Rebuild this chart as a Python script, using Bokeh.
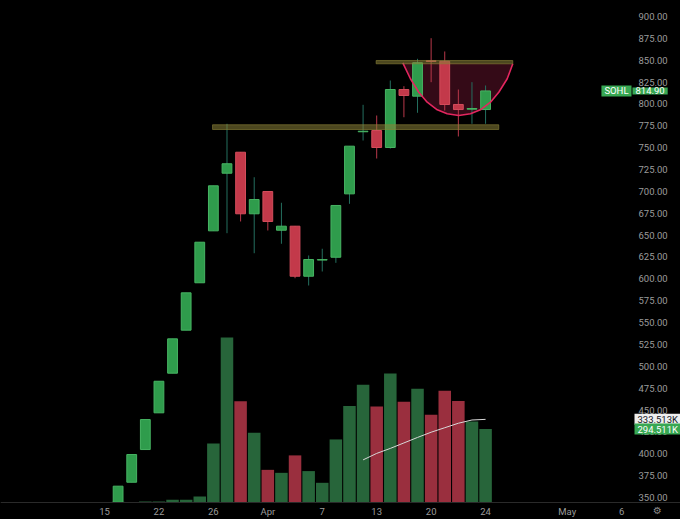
from bokeh.plotting import figure
from bokeh.models import (ColumnDataSource, Range1d, FixedTicker, Label,
                          PrintfTickFormatter, GlobalInlineStyleSheet)
from bokeh.embed import file_html
from bokeh.resources import INLINE

# ---------------- data ----------------
bar_index = list(range(1, 29))
opens  = [344.5, 367.4, 404.8, 446.8, 492.1, 541.3, 595.5, 654.9, 720.8, 744.8,
          674.4, 699.9, 655.6, 660.2, 603.0, 621.5, 624.7, 697.2, 768.2, 769.6,
          750.2, 816.5, 808.9, 849.4, 848.9, 799.4, 794.0, 793.6]
highs  = [362.9, 399.1, 439.1, 482.9, 531.4, 584.0, 641.9, 706.4, 777.3, 745.0,
          716.2, 700.0, 687.0, 660.5, 626.7, 634.4, 683.9, 751.7, 799.0, 786.8,
          826.8, 820.3, 851.6, 875.2, 860.0, 816.5, 824.9, 821.1]
lows   = [344.5, 367.4, 404.8, 446.8, 492.1, 541.3, 595.5, 654.9, 652.2, 665.6,
          629.3, 655.3, 640.1, 600.7, 592.4, 608.4, 618.3, 685.8, 758.2, 737.6,
          749.0, 784.8, 789.9, 824.9, 792.5, 762.8, 777.3, 777.3]
closes = [362.9, 399.1, 439.1, 482.9, 531.4, 584.0, 641.9, 706.4, 731.6, 674.4,
          690.7, 665.6, 660.2, 603.0, 622.1, 622.0, 683.9, 751.7, 768.8, 750.2,
          816.5, 809.7, 847.1, 848.6, 799.4, 793.6, 794.8, 814.9]
volumes = [3000, 2000, 4000, 4000, 11000, 11000, 24000, 237000, 662000, 406000,
           280000, 131000, 119000, 189000, 126000, 79000, 253000, 387000, 472000, 385000,
           518000, 404000, 456000, 352000, 448000, 407000, 325000, 294511]
ma_index = list(range(19, 29))
ma_values = [171000, 197000, 217000, 239000, 261000, 282000, 300000, 318000, 331000, 333513]

tick_index = [0, 4, 8, 12, 16, 20, 24, 28, 34, 38]
tick_labels = ["15", "22", "26", "Apr", "7", "13", "20", "24", "May", "6"]
price_ticks = list(range(350, 901, 25))

# drawings: two horizontal zones and a cup
band_left = [19.96, 7.94]
band_right = [30.0, 28.97]
band_low = [845.9, 770.8]
band_high = [849.7, 776.2]
cup_x = [21.92, 22.48, 23.09, 23.71, 24.45, 25.18, 26.03, 26.89, 27.62, 28.36, 28.97, 29.59, 30.0]
cup_p = [847.0, 828.8, 813.4, 802.0, 793.3, 788.7, 786.8, 788.7, 793.3, 802.0, 813.4, 828.8, 845.9]

last_label = "SOHL"
last_price = closes[-1]

# ---------------- styles ----------------
GREEN_BODY, GREEN_EDGE, GREEN_WICK = "#2f9c4c", "#47b463", "#246f5f"
RED_BODY, RED_EDGE, RED_WICK = "#c3394a", "#d44d5c", "#b8384a"
VOL_GREEN, VOL_RED = "#27653a", "#9a2f3e"
LABEL_GREEN = "#38a853"
AXIS_TXT = "#9b9b9b"
FONT = "Roboto"

up = [c >= o for o, c in zip(opens, closes)]
src = ColumnDataSource(dict(
    x=bar_index, o=opens, h=highs, l=lows, c=closes, v=volumes,
    top=[max(o, c) for o, c in zip(opens, closes)],
    bot=[min(o, c) for o, c in zip(opens, closes)],
    body=[GREEN_BODY if u else RED_BODY for u in up],
    edge=[GREEN_EDGE if u else RED_EDGE for u in up],
    wick=[GREEN_WICK if u else RED_WICK for u in up],
    vcol=[VOL_GREEN if u else VOL_RED for u in up],
))

# scale set-up: the frame covers the whole figure; axes sit at fixed locations
x_start, x_end = -7.641, 42.322
price_axis_x = 38.795        # where the price scale begins (bar-index units)
time_axis_y = 344.2          # where the time scale begins (price units)
p = figure(width=680, height=519, output_backend="svg", toolbar_location=None,
           x_range=Range1d(x_start, x_end), y_range=Range1d(324.8, 918.3),
           y_axis_location="right", min_border_left=0, min_border_top=0,
           min_border_right=0, min_border_bottom=0)
p.extra_y_ranges = {"vol": Range1d(-68204, 2014024)}
p.background_fill_color = "#000000"
p.border_fill_color = "#000000"
p.outline_line_color = None
p.grid.visible = False
p.stylesheets = [GlobalInlineStyleSheet(css="html, body { background-color: #000000; }")]

# volume
p.vbar(x="x", width=0.92, top="v", bottom=0, source=src, fill_color="vcol",
       line_color=None, y_range_name="vol")
p.line(ma_index, ma_values, line_color="#d8d8d8", line_width=1, y_range_name="vol")

# cup fill
p.patch(cup_x, cup_p, fill_color="#3a0b1a", fill_alpha=0.9, line_color=None)

# candles
p.segment(x0="x", x1="x", y0="l", y1="h", source=src, line_color="wick", line_width=1)
p.vbar(x="x", width=0.72, top="top", bottom="bot", source=src,
       fill_color="body", line_color="edge", line_width=1)

# cup outline
p.line(cup_x, cup_p, line_color="#e3265f", line_width=1.6)

# zones
p.quad(left=band_left, right=band_right, bottom=band_low, top=band_high,
       fill_color="#8a8238", fill_alpha=0.55, line_color="#8a8238", line_alpha=0.6)

# axes
ya = p.yaxis[0]
ya.fixed_location = price_axis_x
ya.ticker = FixedTicker(ticks=price_ticks)
ya.formatter = PrintfTickFormatter(format="%.2f")
ya.axis_line_color = None
ya.major_tick_line_color = None
ya.minor_tick_line_color = None
ya.major_tick_out = 0
ya.major_tick_in = 0
ya.minor_tick_out = 0
ya.minor_tick_in = 0
ya.major_label_standoff = 6
ya.major_label_text_color = AXIS_TXT
ya.major_label_text_font = FONT
ya.major_label_text_font_size = "9.5px"

xa = p.xaxis[0]
xa.fixed_location = time_axis_y
xa.ticker = FixedTicker(ticks=tick_index)
xa.major_label_overrides = {t: s for t, s in zip(tick_index, tick_labels)}
xa.axis_line_color = "#2a2a2a"
xa.major_tick_line_color = None
xa.minor_tick_line_color = None
xa.major_tick_out = 0
xa.major_tick_in = 0
xa.minor_tick_out = 0
xa.minor_tick_in = 0
xa.major_label_standoff = 3
xa.major_label_text_color = AXIS_TXT
xa.major_label_text_font = FONT
xa.major_label_text_font_size = "9.5px"

# price / volume tags
common = dict(text_baseline="middle", text_font=FONT, text_font_size="9.5px",
              padding=(3, 0))
p.add_layout(Label(x=price_axis_x, y=last_price, x_offset=-1, text=last_label, text_align="right",
                   text_color="#ffffff", background_fill_color=LABEL_GREEN, **common))
p.add_layout(Label(x=price_axis_x, y=last_price, x_offset=0, text=f"{last_price:.2f}", text_align="left",
                   text_color="#ffffff", background_fill_color=LABEL_GREEN, **common))
p.add_layout(Label(x=price_axis_x, y=ma_values[-1], x_offset=2, text=f"{ma_values[-1]/1000:.3f}K",
                   text_align="left", text_color="#131722", background_fill_color="#eeeeee",
                   y_range_name="vol", **common))
p.add_layout(Label(x=price_axis_x, y=volumes[-1], x_offset=2, text=f"{volumes[-1]/1000:.3f}K",
                   text_align="left", text_color="#ffffff", background_fill_color=LABEL_GREEN,
                   y_range_name="vol", **common))
# settings glyph in the corner of the scales
p.add_layout(Label(x=657, y=9, x_units="screen", y_units="screen", text="\u2699",
                   text_align="center", text_baseline="middle", text_color="#8a8a8a",
                   text_font="DejaVu Sans", text_font_size="10px"))

open("out.html", "w").write(file_html(p, INLINE))
